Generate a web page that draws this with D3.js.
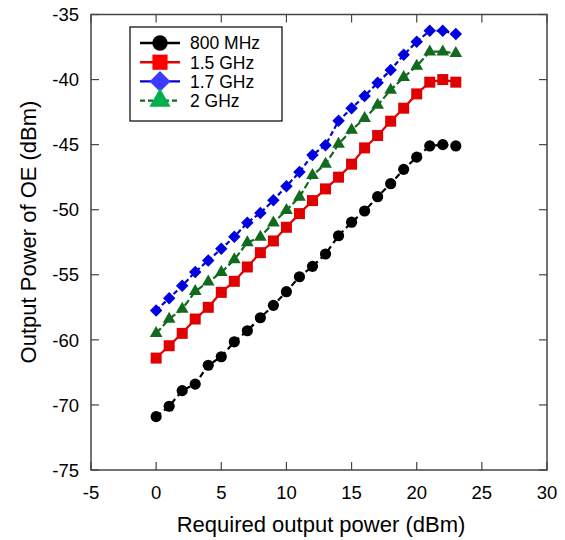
<!DOCTYPE html>
<html>
<head>
<meta charset="utf-8">
<script src="https://cdn.jsdelivr.net/npm/d3@7"></script>
<style>
  body { margin: 0; background: #fff; }
  text { font-family: "Liberation Sans", Arial, sans-serif; }
</style>
</head>
<body>
<div id="chart"></div>
<script>
// required output power (dBm)
var xs = d3.range(0, 24);

// output power of OE (dBm)
var mhz800 = [-70.9, -70.1, -67.8, -66.8, -63.9, -62.6, -60.3, -59.3, -58.3, -57.35,
              -56.3, -55.15, -54.35, -53.4, -52.0, -50.96, -50.1, -49.0, -48.0, -46.9,
              -45.96, -45.1, -45.0, -45.1];
var ghz15 = [-62.8, -60.9, -59.5, -58.4, -57.5, -56.35, -55.5, -54.4, -53.3, -52.4,
             -51.35, -50.3, -49.3, -48.4, -47.5, -46.5, -45.25, -44.3, -43.2, -42.2,
             -41.1, -40.2, -40.0, -40.2];
var ghz17 = [-57.75, -56.8, -55.85, -54.78, -53.9, -53.0, -52.08, -51.0, -50.25, -49.27,
             -48.2, -47.1, -45.8, -45.04, -43.17, -42.2, -41.27, -40.25, -39.27, -38.1,
             -37.1, -36.25, -36.25, -36.5];
var ghz2 = [-59.5, -58.4, -57.64, -56.28, -55.55, -54.82, -53.83, -52.52, -52.1, -51.0,
            -50.04, -49.02, -47.35, -46.5, -44.96, -43.88, -42.98, -41.96, -40.81, -39.83,
            -38.96, -37.86, -37.86, -37.98];

var seriesNames = ['800 MHz', '1.5 GHz', '1.7 GHz', '2 GHz'];
var xTicks = [-5, 0, 5, 10, 15, 20, 25, 30];
var yTicks = [-75, -70, -60, -55, -50, -45, -40, -35];

var width = 565, height = 540;
var plotLeft = 91, plotRight = 547, plotTop = 14.5, plotBottom = 470;

var svg = d3.select('#chart').append('svg')
  .attr('width', width)
  .attr('height', height);

var x = d3.scaleLinear().domain([-5, 30]).range([plotLeft, plotRight]);
// the printed y labels are evenly spaced, so -70..-60 takes one step
var step = (plotBottom - plotTop) / 7;
var y = d3.scaleLinear()
  .domain([-75, -70, -60, -35])
  .range([plotBottom, plotBottom - step, plotBottom - 2 * step, plotTop]);

var styles = [
  { data: mhz800, line: '#000', mark: '#000', legMark: '#000', dash: '6,4', shape: 'circle' },
  { data: ghz15, line: '#e00000', mark: '#e00000', legMark: '#ff0000', dash: null, shape: 'square' },
  { data: ghz17, line: '#0000d8', mark: '#0000e0', legMark: '#3b3bff', dash: '5,3', shape: 'diamond' },
  { data: ghz2, line: '#116a1e', mark: '#116a1e', legMark: '#00b050', dash: '7,3', shape: 'triangle' }
];

function symbolFor(shape, scale) {
  if (shape === 'circle') return d3.symbol(d3.symbolCircle, 98 * scale)();
  if (shape === 'square') return d3.symbol(d3.symbolSquare, 121 * scale)();
  if (shape === 'diamond') return d3.symbol(d3.symbolSquare, 78 * scale)();
  return d3.symbol(d3.symbolTriangle, 70 * scale)();
}

////////////////////// frame and axes //////////////////////

var axisColor = '#444';

svg.append('rect')
  .attr('x', plotLeft).attr('y', plotTop)
  .attr('width', plotRight - plotLeft).attr('height', plotBottom - plotTop)
  .attr('fill', 'none')
  .attr('stroke', axisColor)
  .attr('stroke-width', 1.5);

var tickLen = 8;
var gx = svg.append('g');
xTicks.forEach(function(t) {
  gx.append('line').attr('x1', x(t)).attr('x2', x(t))
    .attr('y1', plotBottom).attr('y2', plotBottom - tickLen)
    .attr('stroke', axisColor).attr('stroke-width', 1.2);
  gx.append('line').attr('x1', x(t)).attr('x2', x(t))
    .attr('y1', plotTop).attr('y2', plotTop + tickLen)
    .attr('stroke', axisColor).attr('stroke-width', 1.2);
  gx.append('text')
    .attr('x', x(t)).attr('y', plotBottom + 29)
    .attr('text-anchor', 'middle')
    .attr('font-size', 18.5)
    .text(t);
});

var gy = svg.append('g');
yTicks.forEach(function(t) {
  gy.append('line').attr('x1', plotLeft).attr('x2', plotLeft + tickLen)
    .attr('y1', y(t)).attr('y2', y(t))
    .attr('stroke', axisColor).attr('stroke-width', 1.2);
  gy.append('line').attr('x1', plotRight).attr('x2', plotRight - tickLen)
    .attr('y1', y(t)).attr('y2', y(t))
    .attr('stroke', axisColor).attr('stroke-width', 1.2);
  gy.append('text')
    .attr('x', plotLeft - 12).attr('y', y(t))
    .attr('dy', '0.36em')
    .attr('text-anchor', 'end')
    .attr('font-size', 18.5)
    .text(t);
});

svg.append('text')
  .attr('x', 321).attr('y', 532)
  .attr('text-anchor', 'middle')
  .attr('font-size', 22)
  .text('Required output power (dBm)');

svg.append('text')
  .attr('transform', 'translate(36,232) rotate(-90)')
  .attr('text-anchor', 'middle')
  .attr('font-size', 22)
  .text('Output Power of OE (dBm)');

////////////////////// series //////////////////////

var line = d3.line()
  .x(function(d, i) { return x(xs[i]); })
  .y(function(d) { return y(d); });

styles.forEach(function(s) {
  svg.append('path')
    .attr('d', line(s.data))
    .attr('fill', 'none')
    .attr('stroke', s.line)
    .attr('stroke-width', 2.2)
    .attr('stroke-dasharray', s.dash);

  svg.selectAll(null)
    .data(s.data)
    .enter().append('path')
    .attr('d', symbolFor(s.shape, 1))
    .attr('transform', function(d, i) {
      return 'translate(' + x(xs[i]) + ',' + y(d) + ')' + (s.shape === 'diamond' ? ' rotate(45)' : '');
    })
    .attr('fill', s.mark);
});

////////////////////// legend //////////////////////

var legend = svg.append('g');
legend.append('rect')
  .attr('x', 130).attr('y', 27)
  .attr('width', 152).attr('height', 94)
  .attr('fill', '#fff')
  .attr('stroke', '#000')
  .attr('stroke-width', 1.2);

styles.forEach(function(s, i) {
  var cy = 43 + i * 19.2;
  legend.append('line')
    .attr('x1', 140).attr('x2', 180)
    .attr('y1', cy).attr('y2', cy)
    .attr('stroke', s.line)
    .attr('stroke-width', 2.4)
    .attr('stroke-dasharray', s.shape === 'triangle' ? '5,3' : null);
  legend.append('path')
    .attr('d', symbolFor(s.shape, s.shape === 'circle' ? 1.9 : (s.shape === 'square' ? 1.9 : 2.8)))
    .attr('transform', 'translate(160,' + cy + ')' + (s.shape === 'diamond' ? ' rotate(45)' : ''))
    .attr('fill', s.legMark);
  legend.append('text')
    .attr('x', 190).attr('y', cy)
    .attr('dy', '0.36em')
    .attr('font-size', 17.5)
    .text(seriesNames[i]);
});
</script>
</body>
</html>
